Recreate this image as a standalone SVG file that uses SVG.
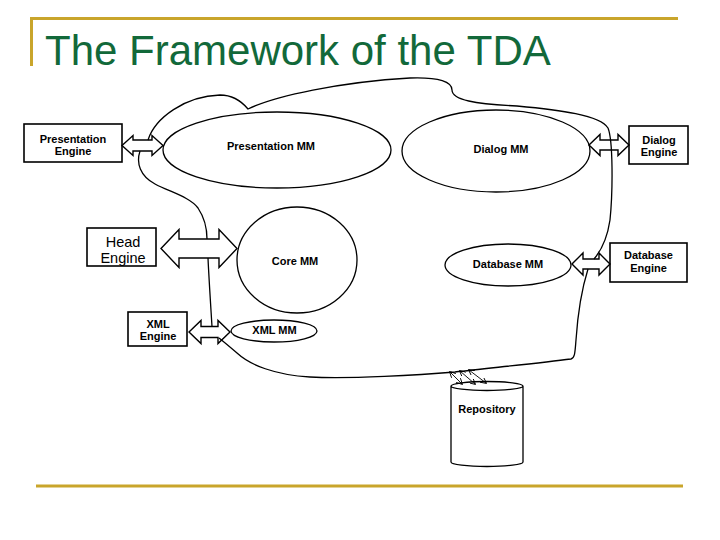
<svg xmlns="http://www.w3.org/2000/svg" width="720" height="540" viewBox="0 0 720 540">
<defs>
<style>
.frame{stroke:#c9a52b;stroke-width:3;fill:none}
.title{font-family:"Liberation Sans",Arial,sans-serif;font-size:42px;fill:#12693a}
.box{fill:#fff;stroke:#000;stroke-width:1.6}
.ell{fill:#fff;stroke:#000;stroke-width:1.3}
.lbl{font-family:"Liberation Sans",Arial,sans-serif;font-size:11px;font-weight:bold;text-anchor:middle;fill:#000}
.big{font-family:"Liberation Sans",Arial,sans-serif;font-size:14.5px;text-anchor:middle;fill:#000}
.barrow{fill:#fff;stroke:#000;stroke-width:1.4;stroke-linejoin:miter}
.wire{fill:none;stroke:#000;stroke-width:1.3}
.small{fill:none;stroke:#000;stroke-width:0.9;marker-start:url(#ah);marker-end:url(#ah)}
</style>
<marker id="ah" viewBox="0 0 8 8" refX="7" refY="4" markerWidth="6" markerHeight="6" orient="auto-start-reverse" markerUnits="userSpaceOnUse">
<path d="M0,0 L8,4 L0,8" fill="none" stroke="#000" stroke-width="1.2"/>
</marker>
</defs>
<rect width="720" height="540" fill="#fff"/>
<g id="frame">
<path class="frame" d="M30,18.5 H678 M31.5,18 V66"/>
<path class="frame" d="M36,486 H683"/>
</g>
<text class="title" x="45" y="65">The Framework of the TDA</text>

<g id="presentation-mm"><ellipse class="ell" cx="277" cy="150" rx="114" ry="38"/><text class="lbl" x="271" y="150">Presentation MM</text></g>
<g id="dialog-mm"><ellipse class="ell" cx="496" cy="151" rx="94" ry="41"/><text class="lbl" x="501" y="153">Dialog MM</text></g>
<g id="core-mm"><ellipse class="ell" cx="297" cy="260" rx="60" ry="53"/><text class="lbl" x="295" y="265">Core MM</text></g>
<g id="database-mm"><ellipse class="ell" cx="508" cy="265" rx="63" ry="21"/><text class="lbl" x="508" y="268">Database MM</text></g>
<g id="xml-mm"><ellipse class="ell" cx="274" cy="331" rx="43" ry="11"/><text class="lbl" x="274.5" y="334">XML MM</text></g>

<g id="presentation-engine"><rect class="box" x="24" y="124" width="98" height="38"/><text class="lbl" x="73" y="143">Presentation</text><text class="lbl" x="73" y="155">Engine</text></g>
<g id="head-engine"><rect class="box" x="87" y="228" width="69" height="38"/><text class="big" x="123" y="247">Head</text><text class="big" x="123" y="263">Engine</text></g>
<g id="xml-engine"><rect class="box" x="128" y="312" width="59" height="34"/><text class="lbl" x="158" y="328">XML</text><text class="lbl" x="158" y="340">Engine</text></g>
<g id="dialog-engine"><rect class="box" x="629" y="126" width="59" height="38"/><text class="lbl" x="659" y="144">Dialog</text><text class="lbl" x="659" y="156">Engine</text></g>
<g id="database-engine"><rect class="box" x="610" y="243" width="77" height="39"/><text class="lbl" x="648.5" y="259">Database</text><text class="lbl" x="648.5" y="272">Engine</text></g>
<g id="repository">
<path class="ell" d="M451,386 V462 A36,4.5 0 0 0 523,462 V386 A36,4.5 0 0 0 451,386 A36,4.5 0 0 0 523,386"/>
<text class="lbl" x="487" y="413">Repository</text>
</g>

<g id="connectors">
<polygon class="barrow" points="122,145.5 133,135.5 133,140 152,140 152,135.5 163,145.5 152,155.5 152,151 133,151 133,155.5"/>
<polygon class="barrow" points="161,248.5 179,229.5 179,239 219,239 219,229.5 237,248.5 219,267.5 219,258 179,258 179,267.5"/>
<polygon class="barrow" points="189,332 201,320.5 201,326.5 218,326.5 218,320.5 230,332 218,343.5 218,337.5 201,337.5 201,343.5"/>
<polygon class="barrow" points="589,145 600,134.5 600,140 618,140 618,134.5 629,145 618,155.5 618,150 600,150 600,155.5"/>
<polygon class="barrow" points="572,264 583,253 583,259 599,259 599,253 610,264 599,275 599,269 583,269 583,275"/>
<path class="wire" d="M148,140 C155,118 185,96 220,95 C235,95 243,103 248,109 C275,96 340,82 410,78 C440,77 452,82 452,90 C452,100 475,104 517,106 C560,110 600,115 608,128 C613,140 613,190 610,220 C607,240 600,252 594,259"/>
<path class="wire" d="M588,269 C583,285 578,310 576,340 C575,352 575,358 571,359 C540,363 490,368 455,372 C420,375 350,379 310,377 C275,375 250,365 237,353 C230,347 224,342 219,338"/>
<path class="wire" d="M140,151 C136,163 140,176 155,184 C170,192 190,197 198,208 C204,217 207,228 207,239"/>
<path class="wire" d="M208,258 C209,280 211,310 212,326.5"/>
<path class="small" d="M450,372 L462,384"/>
<path class="small" d="M460,371 L475,384"/>
<path class="small" d="M469,370 L486,383"/>
</g>
</svg>
